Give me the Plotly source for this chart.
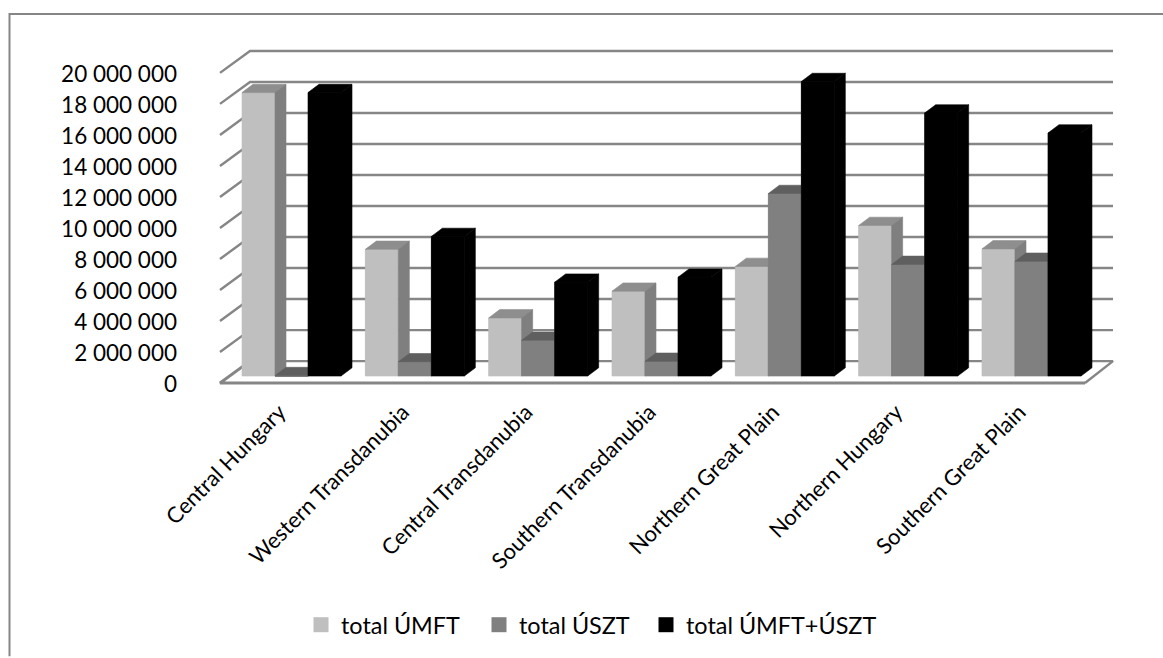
import plotly.graph_objects as go

regions = ["Central Hungary", "Western Transdanubia", "Central Transdanubia",
           "Southern Transdanubia", "Northern Great Plain", "Northern Hungary",
           "Southern Great Plain"]
total_umft = [18280000, 8170000, 3750000, 5470000, 7070000, 9710000, 8200000]
total_uszt = [30000, 920000, 2310000, 950000, 11770000, 7200000, 7400000]
total_both = [18280000, 9000000, 6050000, 6370000, 18990000, 16960000, 15670000]
series_names = ["total ÚMFT", "total ÚSZT", "total ÚMFT+ÚSZT"]
tick_values = list(range(0, 20000001, 2000000))
tick_labels = ["0", "2 000 000", "4 000 000", "6 000 000", "8 000 000", "10 000 000",
               "12 000 000", "14 000 000", "16 000 000", "18 000 000", "20 000 000"]

W, H = 1163, 658
L, R, T, B = 178, 1140, 30, 395
PX_X = 123.33          # pixels per category
PX_Y = 311 / 20000000  # pixels per value unit
C0 = 291.5             # pixel of first category centre
Y0 = 384               # pixel of value 0 on the front plane
x_range = [(L - C0) / PX_X, (R - C0) / PX_X]
y_range = [-(B - Y0) / PX_Y, (Y0 - T) / PX_Y]
ux = lambda px: px / PX_X
uy = lambda px: px / PX_Y

BAR_W = ux(33)
DEPTH_X, DEPTH_Y = ux(11), uy(8.3)
BASE = uy(7)
WALL_X, WALL_Y = ux(30), uy(22)
X_FRONT_L = (220 - C0) / PX_X
X_FRONT_R = (1085 - C0) / PX_X
X_BACK_R = (1113 - C0) / PX_X

colors = [("#bfbfbf", "#8e8e8e", "#7f7f7f"),
          ("#808080", "#5f5f5f", "#5f5f5f"),
          ("#000000", "#000000", "#000000")]
grid = "#868686"
series = [total_umft, total_uszt, total_both]

fig = go.Figure()


def poly(xs, ys, color):
    fig.add_trace(go.Scatter(x=xs + xs[:1], y=ys + ys[:1], mode="lines", fill="toself",
                             fillcolor=color, line=dict(width=0.6, color=color), hoverinfo="skip",
                             showlegend=False))


# bars on the front plane
for s, name in enumerate(series_names):
    fig.add_trace(go.Bar(x=list(range(len(regions))), y=series[s], base=BASE, name=name,
                         width=BAR_W, offset=(s - 1.5) * BAR_W, showlegend=False,
                         marker=dict(color=colors[s][0], line=dict(width=0)), hoverinfo="skip"))

# walls: gridlines running from the front plane to the back wall
gx, gy = [], []
for v in tick_values[1:]:
    gx += [X_FRONT_L, X_FRONT_L + WALL_X, X_BACK_R, None]
    gy += [v, v + WALL_Y, v + WALL_Y, None]
fig.add_trace(go.Scatter(x=gx, y=gy, mode="lines", line=dict(color=grid, width=2.4),
                         hoverinfo="skip", showlegend=False))
fig.add_trace(go.Scatter(x=[X_FRONT_L + WALL_X, X_BACK_R, X_FRONT_R], y=[WALL_Y, WALL_Y, 0], mode="lines",
                         line=dict(color=grid, width=2.4), hoverinfo="skip", showlegend=False))
fig.add_trace(go.Scatter(x=[X_FRONT_L + WALL_X, X_FRONT_L, X_FRONT_R], y=[WALL_Y, 0, 0], mode="lines",
                         line=dict(color=grid, width=3), hoverinfo="skip", showlegend=False))

# bar faces, painted back to front
for i in range(len(regions)):
    for s in range(3):
        v = series[s][i] + BASE
        x0 = i + (s - 1.5) * BAR_W
        x1 = x0 + BAR_W
        front, top, side = colors[s]
        poly([x0, x1, x1, x0], [BASE, BASE, v, v], front)
        poly([x0, x1, x1 + DEPTH_X, x0 + DEPTH_X], [v, v, v + DEPTH_Y, v + DEPTH_Y], top)
        poly([x1, x1 + DEPTH_X, x1 + DEPTH_X, x1], [BASE, BASE + DEPTH_Y, v + DEPTH_Y, v], side)

px = lambda p: (p - L) / (R - L)
py = lambda p: (B - p) / (B - T)

# legend entries, one legend per series so each can sit where the reference has it
legend_ids = ["legend", "legend2", "legend3"]
legend_left = [301, 479, 646]
legend_layout = {}
for s, name in enumerate(series_names):
    fig.add_trace(go.Scatter(x=[None], y=[None], mode="markers", name=name, legend=legend_ids[s],
                             marker=dict(symbol="square", size=15, color=colors[s][0]),
                             hoverinfo="skip"))
    legend_layout[legend_ids[s]] = dict(x=px(legend_left[s]), xanchor="left", y=py(625), yanchor="middle",
                                        font=dict(size=23.4), bgcolor="rgba(0,0,0,0)")

# chart area border: top and left edges reach the picture's edge
fig.add_shape(type="path", xref="paper", yref="paper",
              path=f"M {px(1163)} {py(14)} L {px(9.5)} {py(14)} L {px(9.5)} {py(658)}",
              line=dict(color="#868686", width=2), layer="below")

fig.update_layout(
    width=W, height=H, autosize=False,
    margin=dict(l=L, r=W - R, t=T, b=H - B, pad=0),
    paper_bgcolor="white", plot_bgcolor="white",
    font=dict(family="Lato, Carlito, Calibri, sans-serif", color="black"),
    barmode="overlay", showlegend=True,
    xaxis=dict(range=x_range, tickvals=[i - ux(12) for i in range(len(regions))], ticktext=regions,
               tickangle=-45, showgrid=False, zeroline=False, showline=False, ticks="",
               tickfont=dict(size=22)),
    yaxis=dict(range=y_range, tickvals=[v - uy(1) for v in tick_values], ticktext=tick_labels,
               showgrid=False, zeroline=False, showline=False, ticks="", tickfont=dict(size=22.5)),
    **legend_layout,
)
fig.write_html("out.html", config={"displayModeBar": False},
               post_script="document.body.style.margin='0';")
